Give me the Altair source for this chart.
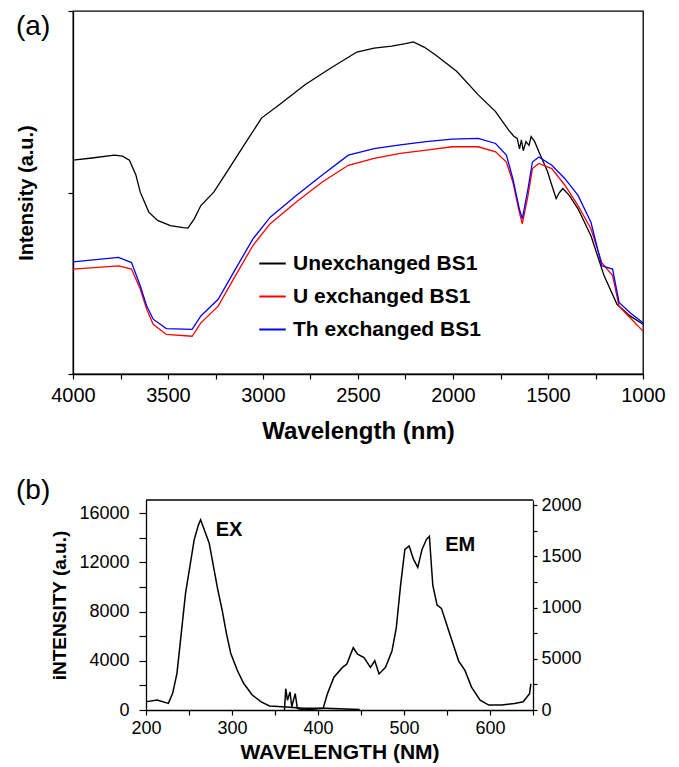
import altair as alt
import pandas as pd

FONT = "Liberation Sans"

# ---------------- Panel (a): spectra ----------------
series_names = ["Unexchanged BS1", "U exchanged BS1", "Th exchanged BS1"]
series_colors = ["#000000", "#ff0000", "#0000ff"]

unex_w = [4000, 3900, 3783, 3740, 3703, 3669, 3646, 3601, 3555, 3487, 3420, 3395, 3361, 3327,
          3259, 3190, 3099, 3008, 2916, 2779, 2643, 2506, 2415, 2323, 2250, 2209, 2150, 2095,
          1981, 1867, 1776, 1707, 1680, 1662, 1650, 1640, 1630, 1616, 1600, 1589, 1570, 1548,
          1502, 1480, 1457, 1440, 1422, 1388, 1342, 1274, 1205, 1137, 1068, 1000]
unex_v = [58.9, 59.5, 60.3, 60.0, 58.9, 54.8, 50.1, 44.6, 42.3, 40.9, 40.3, 40.2, 42.8, 46.4,
          50.1, 55.7, 63.1, 70.5, 74.1, 79.7, 84.3, 88.7, 89.8, 90.3, 91.0, 91.5, 90.0, 88.0,
          83.4, 76.9, 72.3, 67.2, 65.5, 64.9, 62.0, 64.5, 61.5, 64.0, 63.0, 65.4, 64.0, 61.2,
          55.7, 52.0, 48.3, 50.0, 51.1, 49.2, 45.5, 38.1, 27.1, 19.2, 16.0, 13.7]

u_w = [4000, 3760, 3692, 3646, 3612, 3578, 3509, 3373, 3327, 3236, 3145, 3053, 2962, 2825,
       2688, 2551, 2415, 2278, 2141, 2004, 1867, 1776, 1719, 1685, 1651, 1635, 1605, 1582,
       1548, 1480, 1411, 1342, 1274, 1217, 1160, 1126, 1068, 1000]
u_v = [28.9, 29.8, 28.9, 23.4, 17.8, 13.7, 10.9, 10.4, 14.1, 18.7, 27.1, 35.4, 41.4, 47.4,
       52.9, 57.5, 59.4, 60.8, 61.7, 62.6, 62.6, 61.2, 58.4, 52.9, 44.6, 41.4, 49.2, 56.6,
       58.0, 56.6, 52.0, 46.4, 40.0, 30.7, 27.1, 18.7, 15.5, 11.8]

th_w = u_w
th_v = [30.9, 32.1, 30.7, 24.3, 18.7, 15.1, 12.5, 12.3, 16.0, 20.6, 28.9, 37.2, 43.2, 49.2,
        54.8, 60.3, 62.1, 63.1, 64.0, 64.7, 64.9, 63.5, 60.3, 53.8, 45.5, 42.8, 51.1, 58.4,
        59.8, 57.5, 53.8, 49.2, 41.8, 29.8, 28.9, 19.7, 16.9, 14.1]

rows = []
for name, ws, vs in zip(series_names, [unex_w, u_w, th_w], [unex_v, u_v, th_v]):
    for i, (w, v) in enumerate(zip(ws, vs)):
        rows.append({"series": name, "w": w, "v": v, "order": i})
df_a = pd.DataFrame(rows)

x_ticks_a = list(range(1000, 4001, 250))

lines_a = alt.Chart(df_a).mark_line(strokeWidth=1.3).encode(
    x=alt.X("w:Q",
            scale=alt.Scale(domain=[1000, 4000], reverse=True, nice=False, zero=False),
            axis=alt.Axis(values=x_ticks_a, format="d", labelFlush=False,
                          labelExpr="datum.value % 500 == 0 ? datum.label : ''",
                          tickSize=5, labelPadding=6, labelFontSize=20,
                          title="Wavelength (nm)", titleFontSize=24, titleFontWeight="bold",
                          titleY=45)),
    y=alt.Y("v:Q",
            scale=alt.Scale(domain=[0, 100], nice=False),
            axis=alt.Axis(values=[0, 50, 100], labels=False, tickSize=5,
                          title="Intensity (a.u.)", titleFontSize=20, titleFontWeight="bold",
                          titleX=-47, titleBaseline="middle")),
    color=alt.Color("series:N",
                    scale=alt.Scale(domain=series_names, range=series_colors),
                    sort=series_names,
                    legend=alt.Legend(title=None, orient="none", legendX=185, legendY=238,
                                      symbolType="stroke", symbolSize=700,
                                      symbolStrokeWidth=2, labelFontSize=21,
                                      labelFontWeight="bold", labelFont=FONT,
                                      rowPadding=8, labelLimit=400, labelOffset=6)),
    detail="series:N",
    order="order:Q",
)

tag_a = alt.Chart(pd.DataFrame({"t": ["(a)"]})).mark_text(
    align="left", baseline="middle", fontSize=28, font=FONT, color="black"
).encode(text="t:N", x=alt.value(-57), y=alt.value(16))

panel_a = alt.layer(lines_a, tag_a).properties(width=570, height=363)

# ---------------- Panel (b): excitation / emission ----------------
ex_nm = [201, 213, 226, 231, 236, 241, 246, 251, 256, 261, 263.5, 268.5, 273.5, 278.5, 283.5,
         288.5, 293.5, 298.5, 306, 313.5, 323.5, 333.5, 343.5, 358.5, 383.5, 408.5, 448.5]
ex_i = [680, 810, 540, 1350, 2980, 6230, 9490, 11650, 13820, 15040, 15450, 14500, 13550,
        11650, 9760, 8130, 6230, 4610, 3250, 2170, 1220, 680, 325, 270, 135, 135, 50]

em_nm = [361, 362.5, 364.5, 367.5, 369.5, 373.5, 376, 383.5, 406, 411, 418.5, 428.5, 433.5,
         441, 446, 453.5, 461, 466, 471, 478.5, 486, 491, 496, 501, 506, 511, 516, 521, 526,
         529.5, 533.5, 538.5, 543.5, 548.5, 556, 563.5, 571, 578.5, 588.5, 598.5, 613.5,
         628.5, 638.5, 646, 647.5]
em_i = [0, 208, 96, 176, 32, 160, 16, 0, 16, 160, 320, 416, 448, 608, 544, 512, 416, 480,
        352, 416, 576, 800, 1216, 1568, 1600, 1472, 1392, 1568, 1664, 1696, 1216, 1024, 992,
        864, 672, 480, 384, 224, 96, 48, 48, 64, 80, 160, 256]

peak_labels = ["EX", "EM"]
peak_nm = [281, 548]
peak_i = [14620, 13400]

# axis extents of panel (b), used for its frame line
b_x_extent = [200, 650]
b_left_extent = [0, 17060]
b_right_extent = [0, 2050]

df_ex = pd.DataFrame({"nm": ex_nm, "I": ex_i})
df_em = pd.DataFrame({"nm": em_nm, "E": em_i})
df_lab = pd.DataFrame({"nm": peak_nm, "I": peak_i, "lab": peak_labels})
df_frame = pd.DataFrame({"x0": [b_x_extent[0]], "x1": [b_x_extent[1]],
                         "ytop": [b_left_extent[1]]})

# panel (b) shares the left origin of panel (a); its plot area starts 73px further right
B_W = 460
B_H = 210
B_SHIFT = 73
x_scale_b = alt.Scale(domain=b_x_extent, range=[B_SHIFT, B_W], nice=False, zero=False)

x_axis_b = alt.Axis(values=list(range(200, 651, 50)), format="d", labelFlush=False,
                    labelExpr="datum.value % 100 == 0 ? datum.label : ''",
                    tickSize=5, labelPadding=4, labelFontSize=18,
                    title="WAVELENGTH (NM)", titleFontSize=21, titleFontWeight="bold",
                    titleY=31)
x_b = alt.X("nm:Q", scale=x_scale_b, axis=x_axis_b)

left_axis = alt.Axis(values=list(range(0, 16001, 2000)), format="d",
                     labelExpr="datum.value % 4000 == 0 ? datum.label : ''",
                     tickSize=7, labelPadding=10, labelFontSize=18, offset=-B_SHIFT,
                     title="iNTENSITY (a.u.)", titleFontSize=19, titleFontWeight="bold",
                     titleX=-87, titleBaseline="middle")
left_scale = alt.Scale(domain=b_left_extent, nice=False)

ex_line = alt.Chart(df_ex).mark_line(color="black", strokeWidth=1.5).encode(
    x=x_b, y=alt.Y("I:Q", scale=left_scale, axis=left_axis))

ex_text = alt.Chart(df_lab).mark_text(
    align="left", baseline="middle", fontSize=20, fontWeight="bold", font=FONT, color="black"
).encode(x=x_b, y=alt.Y("I:Q", scale=left_scale, axis=left_axis), text="lab:N")

tag_b = alt.Chart(pd.DataFrame({"t": ["(b)"]})).mark_text(
    align="left", baseline="middle", fontSize=28, font=FONT, color="black"
).encode(text="t:N", x=alt.value(-57), y=alt.value(-9))

# top edge of panel (b)'s frame, drawn through the scales
frame_top = alt.Chart(df_frame).mark_rule(color="black", strokeWidth=1.3).encode(
    x=alt.X("x0:Q", scale=x_scale_b, axis=x_axis_b), x2="x1:Q",
    y=alt.Y("ytop:Q", scale=left_scale, axis=left_axis))

left_layer = alt.layer(ex_line, ex_text, tag_b, frame_top)

em_line = alt.Chart(df_em).mark_line(color="black", strokeWidth=1.5).encode(
    x=x_b,
    y=alt.Y("E:Q", scale=alt.Scale(domain=b_right_extent, nice=False),
            axis=alt.Axis(orient="right", values=list(range(0, 2001, 250)), format="d",
                          labelExpr="datum.value == 500 ? '5000' : (datum.value % 500 == 0 ? datum.label : '')",
                          tickSize=4, labelPadding=4, labelFontSize=18, title=None)))

panel_b = alt.layer(left_layer, em_line).resolve_scale(y="independent").properties(
    width=B_W, height=B_H, view=alt.ViewBackground(stroke="transparent"))

chart = alt.vconcat(panel_a, panel_b, spacing=32).properties(
    padding={"left": 7, "top": 1, "right": 2, "bottom": 0}
).configure(font=FONT).configure_view(
    stroke="black", strokeWidth=1.3
).configure_axis(
    grid=False, domainColor="black", domainWidth=1.3, tickColor="black", tickWidth=1.2,
    labelColor="black", titleColor="black", labelFont=FONT, titleFont=FONT
)

chart.save("out.html", embed_options={"renderer": "svg", "actions": False})
